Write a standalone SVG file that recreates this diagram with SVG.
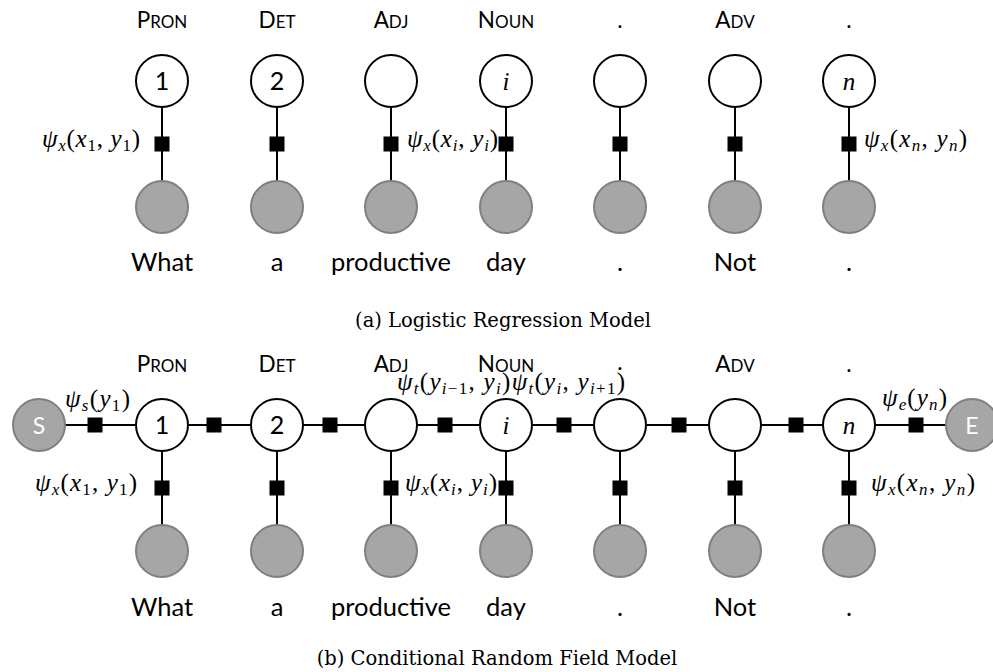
<svg xmlns="http://www.w3.org/2000/svg" width="993" height="672" viewBox="0 0 993 672">
<style>
.hid{fill:#fff;stroke:#000;stroke-width:2}
.obs{fill:#a6a6a6;stroke:#7f7f7f;stroke-width:2}
.edge{stroke:#000;stroke-width:2;fill:none}
.fac{fill:#000}
.tag{font-family:Lato,"Open Sans",sans-serif;font-size:22.5px;fill:#000;text-anchor:middle}
.sc{font-size:17px}
.word{font-family:Lato,"Open Sans",sans-serif;font-size:25.5px;fill:#000;text-anchor:middle}
.num{font-family:Lato,"Open Sans",sans-serif;font-size:25px;fill:#000;text-anchor:middle}
.se{font-family:Lato,"Open Sans",sans-serif;font-size:23px;fill:#fff;text-anchor:middle}
.var{font-family:"Liberation Serif",serif;font-style:italic;font-size:25px;fill:#000;text-anchor:middle}
.m{font-family:"Liberation Serif",serif;font-size:25px;fill:#000}
.i{font-style:italic}
.s{font-size:17px}
.cap{font-family:"DejaVu Serif",serif;font-size:19.5px;fill:#000;text-anchor:middle}
</style>

<!-- ============ (a) Logistic Regression ============ -->
<g id="a-connectors">
  <line class="edge" x1="162" y1="107" x2="162" y2="181"/>
  <line class="edge" x1="277" y1="107" x2="277" y2="181"/>
  <line class="edge" x1="391" y1="107" x2="391" y2="181"/>
  <line class="edge" x1="506" y1="107" x2="506" y2="181"/>
  <line class="edge" x1="620" y1="107" x2="620" y2="181"/>
  <line class="edge" x1="735" y1="107" x2="735" y2="181"/>
  <line class="edge" x1="849" y1="107" x2="849" y2="181"/>
  <rect class="fac" x="154.5" y="136.5" width="15" height="15"/>
  <rect class="fac" x="269.5" y="136.5" width="15" height="15"/>
  <rect class="fac" x="383.5" y="136.5" width="15" height="15"/>
  <rect class="fac" x="498.5" y="136.5" width="15" height="15"/>
  <rect class="fac" x="612.5" y="136.5" width="15" height="15"/>
  <rect class="fac" x="727.5" y="136.5" width="15" height="15"/>
  <rect class="fac" x="841.5" y="136.5" width="15" height="15"/>
</g>

<g id="a-y1"><circle class="hid" cx="162" cy="81" r="26"/><text class="num" x="162" y="90">1</text></g>
<g id="a-y2"><circle class="hid" cx="277" cy="81" r="26"/><text class="num" x="277" y="90">2</text></g>
<g id="a-y3"><circle class="hid" cx="391" cy="81" r="26"/></g>
<g id="a-yi"><circle class="hid" cx="506" cy="81" r="26"/><text class="var" x="506" y="90">i</text></g>
<g id="a-y5"><circle class="hid" cx="620" cy="81" r="26"/></g>
<g id="a-y6"><circle class="hid" cx="735" cy="81" r="26"/></g>
<g id="a-yn"><circle class="hid" cx="849" cy="81" r="26"/><text class="var" x="849" y="90">n</text></g>

<g id="a-x1"><circle class="obs" cx="162" cy="207" r="26"/></g>
<g id="a-x2"><circle class="obs" cx="277" cy="207" r="26"/></g>
<g id="a-x3"><circle class="obs" cx="391" cy="207" r="26"/></g>
<g id="a-xi"><circle class="obs" cx="506" cy="207" r="26"/></g>
<g id="a-x5"><circle class="obs" cx="620" cy="207" r="26"/></g>
<g id="a-x6"><circle class="obs" cx="735" cy="207" r="26"/></g>
<g id="a-xn"><circle class="obs" cx="849" cy="207" r="26"/></g>

<g id="a-tags">
  <text class="tag" x="162" y="28">P<tspan class="sc">RON</tspan></text>
  <text class="tag" x="277" y="28">D<tspan class="sc">ET</tspan></text>
  <text class="tag" x="391" y="28">A<tspan class="sc">DJ</tspan></text>
  <text class="tag" x="506" y="28">N<tspan class="sc">OUN</tspan></text>
  <text class="tag" x="620" y="28">.</text>
  <text class="tag" x="735" y="28">A<tspan class="sc">DV</tspan></text>
  <text class="tag" x="849" y="28">.</text>
</g>
<g id="a-words">
  <text class="word" x="162" y="271">What</text>
  <text class="word" x="277" y="271">a</text>
  <text class="word" x="391" y="271">productive</text>
  <text class="word" x="506" y="271">day</text>
  <text class="word" x="620" y="271">.</text>
  <text class="word" x="735" y="271">Not</text>
  <text class="word" x="849" y="271">.</text>
</g>
<g id="a-labels">
  <text class="m" x="42" y="147" textLength="98" lengthAdjust="spacing"><tspan class="i">ψ</tspan><tspan class="s i" dy="4">x</tspan><tspan dy="-4">(</tspan><tspan class="i">x</tspan><tspan class="s" dy="4">1</tspan><tspan dy="-4">, </tspan><tspan class="i">y</tspan><tspan class="s" dy="4">1</tspan><tspan dy="-4">)</tspan></text>
  <text class="m" x="407" y="147" textLength="91" lengthAdjust="spacing"><tspan class="i">ψ</tspan><tspan class="s i" dy="4">x</tspan><tspan dy="-4">(</tspan><tspan class="i">x</tspan><tspan class="s i" dy="4">i</tspan><tspan dy="-4">, </tspan><tspan class="i">y</tspan><tspan class="s i" dy="4">i</tspan><tspan dy="-4">)</tspan></text>
  <text class="m" x="864" y="147" textLength="103" lengthAdjust="spacing"><tspan class="i">ψ</tspan><tspan class="s i" dy="4">x</tspan><tspan dy="-4">(</tspan><tspan class="i">x</tspan><tspan class="s i" dy="4">n</tspan><tspan dy="-4">, </tspan><tspan class="i">y</tspan><tspan class="s i" dy="4">n</tspan><tspan dy="-4">)</tspan></text>
</g>
<text class="cap" x="503" y="327">(a) Logistic Regression Model</text>

<!-- ============ (b) CRF ============ -->
<g id="b-connectors">
  <line class="edge" x1="65" y1="425" x2="946" y2="425"/>
  <line class="edge" x1="162" y1="451" x2="162" y2="525"/>
  <line class="edge" x1="277" y1="451" x2="277" y2="525"/>
  <line class="edge" x1="391" y1="451" x2="391" y2="525"/>
  <line class="edge" x1="506" y1="451" x2="506" y2="525"/>
  <line class="edge" x1="620" y1="451" x2="620" y2="525"/>
  <line class="edge" x1="735" y1="451" x2="735" y2="525"/>
  <line class="edge" x1="849" y1="451" x2="849" y2="525"/>
  <rect class="fac" x="154.5" y="480.5" width="15" height="15"/>
  <rect class="fac" x="269.5" y="480.5" width="15" height="15"/>
  <rect class="fac" x="383.5" y="480.5" width="15" height="15"/>
  <rect class="fac" x="498.5" y="480.5" width="15" height="15"/>
  <rect class="fac" x="612.5" y="480.5" width="15" height="15"/>
  <rect class="fac" x="727.5" y="480.5" width="15" height="15"/>
  <rect class="fac" x="841.5" y="480.5" width="15" height="15"/>
  <rect class="fac" x="87.5" y="417.5" width="15" height="15"/>
  <rect class="fac" x="206.5" y="417.5" width="15" height="15"/>
  <rect class="fac" x="322.5" y="417.5" width="15" height="15"/>
  <rect class="fac" x="437.5" y="417.5" width="15" height="15"/>
  <rect class="fac" x="556.5" y="417.5" width="15" height="15"/>
  <rect class="fac" x="671.5" y="417.5" width="15" height="15"/>
  <rect class="fac" x="788.5" y="417.5" width="15" height="15"/>
  <rect class="fac" x="908.5" y="417.5" width="15" height="15"/>
</g>

<g id="b-S"><circle class="obs" cx="39" cy="425" r="26"/><text class="se" x="39" y="434">S</text></g>
<g id="b-E"><circle class="obs" cx="972" cy="425" r="26"/><text class="se" x="972" y="434">E</text></g>

<g id="b-y1"><circle class="hid" cx="162" cy="425" r="26"/><text class="num" x="162" y="434">1</text></g>
<g id="b-y2"><circle class="hid" cx="277" cy="425" r="26"/><text class="num" x="277" y="434">2</text></g>
<g id="b-y3"><circle class="hid" cx="391" cy="425" r="26"/></g>
<g id="b-yi"><circle class="hid" cx="506" cy="425" r="26"/><text class="var" x="506" y="434">i</text></g>
<g id="b-y5"><circle class="hid" cx="620" cy="425" r="26"/></g>
<g id="b-y6"><circle class="hid" cx="735" cy="425" r="26"/></g>
<g id="b-yn"><circle class="hid" cx="849" cy="425" r="26"/><text class="var" x="849" y="434">n</text></g>

<g id="b-x1"><circle class="obs" cx="162" cy="551" r="26"/></g>
<g id="b-x2"><circle class="obs" cx="277" cy="551" r="26"/></g>
<g id="b-x3"><circle class="obs" cx="391" cy="551" r="26"/></g>
<g id="b-xi"><circle class="obs" cx="506" cy="551" r="26"/></g>
<g id="b-x5"><circle class="obs" cx="620" cy="551" r="26"/></g>
<g id="b-x6"><circle class="obs" cx="735" cy="551" r="26"/></g>
<g id="b-xn"><circle class="obs" cx="849" cy="551" r="26"/></g>

<g id="b-tags">
  <text class="tag" x="162" y="372">P<tspan class="sc">RON</tspan></text>
  <text class="tag" x="277" y="372">D<tspan class="sc">ET</tspan></text>
  <text class="tag" x="391" y="372">A<tspan class="sc">DJ</tspan></text>
  <text class="tag" x="506" y="372">N<tspan class="sc">OUN</tspan></text>
  <text class="tag" x="620" y="370">.</text>
  <text class="tag" x="735" y="372">A<tspan class="sc">DV</tspan></text>
  <text class="tag" x="849" y="372">.</text>
</g>
<g id="b-words">
  <text class="word" x="162" y="616">What</text>
  <text class="word" x="277" y="616">a</text>
  <text class="word" x="391" y="616">productive</text>
  <text class="word" x="506" y="616">day</text>
  <text class="word" x="620" y="616">.</text>
  <text class="word" x="735" y="616">Not</text>
  <text class="word" x="849" y="616">.</text>
</g>
<g id="b-labels">
  <text class="m" x="65" y="407" textLength="65" lengthAdjust="spacing"><tspan class="i">ψ</tspan><tspan class="s i" dy="4">s</tspan><tspan dy="-4">(</tspan><tspan class="i">y</tspan><tspan class="s" dy="4">1</tspan><tspan dy="-4">)</tspan></text>
  <text class="m" x="397" y="390" textLength="228" lengthAdjust="spacing"><tspan class="i">ψ</tspan><tspan class="s i" dy="4">t</tspan><tspan dy="-4">(</tspan><tspan class="i">y</tspan><tspan class="s" dy="4"><tspan class="i">i</tspan>−1</tspan><tspan dy="-4">, </tspan><tspan class="i">y</tspan><tspan class="s i" dy="4">i</tspan><tspan dy="-4">)</tspan><tspan class="i">ψ</tspan><tspan class="s i" dy="4">t</tspan><tspan dy="-4">(</tspan><tspan class="i">y</tspan><tspan class="s i" dy="4">i</tspan><tspan dy="-4">, </tspan><tspan class="i">y</tspan><tspan class="s" dy="4"><tspan class="i">i</tspan>+1</tspan><tspan dy="-4">)</tspan></text>
  <text class="m" x="882" y="406" textLength="65" lengthAdjust="spacing"><tspan class="i">ψ</tspan><tspan class="s i" dy="4">e</tspan><tspan dy="-4">(</tspan><tspan class="i">y</tspan><tspan class="s i" dy="4">n</tspan><tspan dy="-4">)</tspan></text>
  <text class="m" x="35" y="491" textLength="102" lengthAdjust="spacing"><tspan class="i">ψ</tspan><tspan class="s i" dy="4">x</tspan><tspan dy="-4">(</tspan><tspan class="i">x</tspan><tspan class="s" dy="4">1</tspan><tspan dy="-4">, </tspan><tspan class="i">y</tspan><tspan class="s" dy="4">1</tspan><tspan dy="-4">)</tspan></text>
  <text class="m" x="405" y="491" textLength="92" lengthAdjust="spacing"><tspan class="i">ψ</tspan><tspan class="s i" dy="4">x</tspan><tspan dy="-4">(</tspan><tspan class="i">x</tspan><tspan class="s i" dy="4">i</tspan><tspan dy="-4">, </tspan><tspan class="i">y</tspan><tspan class="s i" dy="4">i</tspan><tspan dy="-4">)</tspan></text>
  <text class="m" x="871" y="491" textLength="104" lengthAdjust="spacing"><tspan class="i">ψ</tspan><tspan class="s i" dy="4">x</tspan><tspan dy="-4">(</tspan><tspan class="i">x</tspan><tspan class="s i" dy="4">n</tspan><tspan dy="-4">, </tspan><tspan class="i">y</tspan><tspan class="s i" dy="4">n</tspan><tspan dy="-4">)</tspan></text>
</g>
<text class="cap" x="497" y="665">(b) Conditional Random Field Model</text>
</svg>
